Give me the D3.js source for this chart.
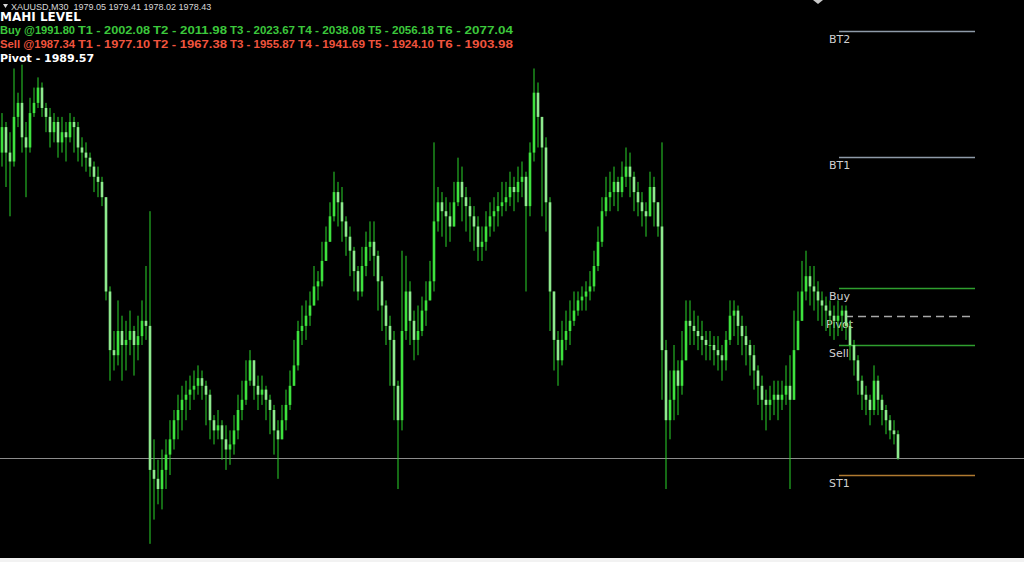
<!DOCTYPE html>
<html><head><meta charset="utf-8">
<script src="https://cdn.jsdelivr.net/npm/d3@7"></script>
<style>html,body{margin:0;padding:0;background:#000;overflow:hidden}svg{display:block}</style>
</head><body>
<svg id="chart" width="1024" height="562"></svg>
<script>
// ---- data (XAUUSD M30) ----
const firstOpen = 2002.4;
const closes = [2004.4,2002.4,2001.7,2005.2,2006.3,2003.6,2002.8,2005.5,2006.3,2007.5,2005.9,2005.2,2004.0,2004.8,2003.2,2004.0,2003.6,2004.8,2004.4,2002.8,2002.4,2002.0,2001.3,2000.5,2000.1,1998.9,1991.5,1986.9,1986.5,1988.4,1987.3,1987.7,1988.4,1987.3,1988.0,1989.2,1988.8,1977.5,1976.8,1976.0,1977.5,1978.7,1979.9,1981.4,1982.2,1983.0,1983.4,1983.8,1984.1,1984.7,1984.1,1983.4,1981.4,1980.6,1981.0,1979.9,1979.1,1979.5,1980.6,1982.2,1983.0,1984.5,1986.1,1984.1,1983.4,1983.8,1983.0,1982.2,1980.6,1979.9,1981.4,1982.6,1984.1,1985.7,1988.4,1988.8,1989.6,1990.4,1991.9,1992.3,1993.9,1995.4,1997.4,1999.3,1998.5,1997.0,1995.8,1994.7,1993.1,1991.5,1993.5,1995.0,1995.4,1994.3,1992.3,1990.4,1988.8,1987.7,1984.1,1981.4,1988.4,1991.5,1989.2,1987.7,1988.4,1990.0,1990.8,1992.3,1997.0,1998.5,1997.8,1997.4,1996.6,1998.5,2000.1,1998.9,1998.2,1997.4,1996.6,1995.0,1995.4,1996.6,1997.4,1997.8,1998.2,1998.5,1998.9,1999.7,1999.3,2000.1,2000.5,1998.2,2002.4,2007.1,2005.2,2002.8,1998.5,1991.5,1987.7,1986.1,1987.7,1988.4,1989.2,1990.0,1990.8,1991.1,1991.5,1991.9,1993.5,1995.4,1997.8,1998.9,1999.3,2000.1,1999.3,2000.5,2001.3,2000.5,1999.3,1998.5,1997.8,1997.4,1999.7,1998.5,1996.6,1986.9,1981.4,1983.0,1985.3,1984.1,1986.1,1989.2,1988.8,1988.4,1988.0,1987.7,1987.3,1987.3,1986.9,1986.5,1986.1,1987.7,1989.6,1990.0,1988.8,1988.0,1987.3,1986.5,1985.3,1984.1,1983.0,1982.6,1983.0,1983.4,1983.0,1983.4,1984.1,1983.0,1986.9,1989.2,1991.5,1992.7,1991.9,1991.5,1990.8,1990.4,1990.0,1989.6,1989.2,1989.6,1990.0,1988.8,1987.3,1986.1,1984.5,1983.4,1983.0,1982.2,1984.5,1983.0,1982.2,1981.4,1980.6,1980.3,1978.43];
const highs = [2005.5,2004.8,2004.0,2009.0,2007.1,2009.3,2004.8,2006.7,2007.5,2008.3,2007.9,2006.3,2005.9,2005.5,2005.2,2005.2,2004.8,2005.5,2005.2,2004.8,2003.6,2003.2,2002.4,2001.7,2001.3,2000.5,1998.9,1991.9,1988.4,1990.8,1989.6,1989.2,1990.0,1988.8,1989.6,1990.8,1993.5,1997.8,1979.9,1978.3,1979.1,1979.9,1981.4,1982.2,1983.4,1984.1,1984.5,1984.9,1985.3,1985.7,1985.3,1984.5,1983.8,1981.8,1982.2,1981.4,1981.0,1980.6,1981.8,1983.4,1984.5,1986.1,1986.9,1986.1,1984.9,1984.9,1984.1,1983.4,1982.6,1981.4,1982.6,1983.8,1985.3,1987.7,1989.2,1990.4,1990.8,1991.5,1993.5,1993.1,1995.4,1996.6,1998.5,2000.9,2000.1,1999.7,1997.4,1996.6,1995.0,1993.5,1995.0,1996.2,1997.0,1997.0,1994.7,1992.7,1990.8,1989.6,1988.4,1984.5,1994.7,1994.3,1992.3,1990.0,1990.4,1991.1,1992.3,1993.9,2003.2,1999.7,1999.3,1998.9,1998.5,2000.1,2002.0,2001.3,1999.7,1998.9,1998.2,1997.4,1996.6,1997.8,1998.5,1998.9,1999.3,2000.1,2000.1,2000.9,2000.5,2001.3,2001.7,2000.9,2003.2,2009.0,2007.9,2004.0,2003.6,1998.9,1991.5,1988.4,1989.2,1990.0,1990.8,1991.5,1991.5,1991.9,1992.3,1993.1,1994.7,1996.6,1998.9,2000.5,2000.9,2001.3,2000.5,2001.7,2002.8,2002.4,2000.9,2000.1,1999.3,1998.5,2000.9,2000.5,1998.5,2003.2,1987.7,1985.3,1987.3,1986.1,1988.4,1990.8,1990.8,1990.0,1989.6,1989.2,1988.4,1988.4,1988.0,1988.0,1987.3,1988.4,1990.8,1990.8,1990.4,1989.6,1988.8,1987.7,1987.3,1985.7,1984.9,1983.8,1984.1,1984.5,1984.5,1984.5,1985.7,1986.5,1990.0,1991.5,1993.9,1994.7,1993.5,1993.5,1992.3,1991.5,1991.1,1990.8,1990.4,1990.8,1990.4,1990.4,1989.2,1987.7,1986.5,1984.9,1984.1,1983.4,1985.7,1984.9,1983.4,1982.6,1981.8,1981.4,1980.6];
const lows = [2001.3,1999.7,1997.4,2001.3,2004.4,2002.4,1998.9,2002.4,2005.2,2005.9,2005.2,2004.0,2002.8,2003.2,2002.0,2002.4,2001.7,2003.2,2002.4,2001.7,2001.3,2000.9,2000.5,1999.3,1998.9,1998.2,1990.8,1984.5,1985.3,1985.7,1984.5,1985.3,1986.5,1984.9,1986.1,1987.3,1987.7,1971.7,1973.6,1974.8,1974.4,1976.0,1977.1,1979.1,1979.9,1980.6,1981.4,1982.2,1983.0,1983.4,1983.0,1981.0,1979.9,1979.5,1979.9,1978.3,1977.5,1977.9,1978.7,1979.9,1981.4,1982.6,1984.1,1983.0,1982.2,1982.6,1981.4,1980.3,1978.7,1976.8,1979.9,1980.6,1982.2,1984.1,1985.3,1987.3,1987.7,1988.8,1990.8,1990.8,1991.9,1993.9,1995.4,1997.0,1996.6,1995.4,1994.3,1992.7,1991.5,1990.8,1991.1,1992.7,1993.9,1992.7,1990.0,1988.4,1987.3,1984.1,1981.4,1976.0,1980.6,1987.7,1987.3,1986.1,1986.5,1988.0,1988.8,1990.8,1991.5,1996.2,1995.8,1995.0,1995.4,1996.6,1998.2,1997.0,1996.2,1995.4,1994.7,1993.9,1993.9,1994.7,1995.8,1996.2,1996.6,1997.4,1997.8,1998.2,1997.8,1998.5,1998.9,1991.5,1997.4,2001.7,2002.8,1997.4,1996.2,1988.4,1985.3,1984.1,1985.7,1986.9,1987.3,1988.8,1989.6,1990.0,1990.0,1990.8,1991.5,1993.1,1995.0,1997.4,1997.8,1998.2,1997.8,1998.9,1999.7,1998.9,1997.8,1997.4,1996.6,1995.8,1997.8,1996.6,1995.8,1983.0,1976.0,1979.9,1981.4,1981.8,1983.4,1986.5,1987.3,1987.3,1986.9,1986.5,1986.1,1986.1,1985.7,1985.3,1984.5,1985.3,1987.3,1988.0,1987.3,1986.5,1985.7,1984.9,1983.8,1982.6,1981.4,1980.6,1981.4,1981.8,1981.4,1982.2,1982.6,1976.0,1983.4,1986.9,1989.2,1990.8,1990.4,1990.0,1989.2,1988.8,1988.4,1988.0,1987.7,1988.0,1988.4,1987.7,1986.1,1984.9,1983.4,1982.2,1981.8,1981.0,1981.8,1981.8,1981.0,1980.3,1979.9,1979.5,1978.3];

const symbol = "XAUUSD,M30";
const quote = ["1979.05","1979.41","1978.02","1978.43"];
const bid = 1978.43;
const buyEntry = 1991.80, sellEntry = 1987.34, pivot = 1989.57;
const buyTargets = [2002.08, 2011.98, 2023.67, 2038.08, 2056.18, 2077.04];
const sellTargets = [1977.10, 1967.38, 1955.87, 1941.69, 1924.10, 1903.98];
const levelNames = ["BT2","BT1","Buy","Pivot","Sell","ST1"];
const levelValues = [2011.98, 2002.08, 1991.80, 1989.57, 1987.34, 1977.10];

// ---- build ----
const W = 1024, H = 562, plotH = 558;
const svg = d3.select("#chart");
svg.append("rect").attr("width", W).attr("height", plotH).attr("fill", "#000");
svg.append("rect").attr("y", plotH).attr("width", W).attr("height", H - plotH).attr("fill", "#f2f2f2");

const candles = closes.map((c, i) => ({
  i, o: i === 0 ? firstOpen : closes[i - 1], c, h: highs[i], l: lows[i]
}));

const x = d3.scaleBand().domain(candles.map(d => d.i)).range([0, candles.length * 4]).padding(0);
const y = d3.scaleLinear().domain([1977.10, 2011.98]).range([475, 30.5]);

// bid line (behind candles)
svg.append("line").attr("x1", 0).attr("x2", W)
  .attr("y1", Math.round(y(bid)) + 0.5).attr("y2", Math.round(y(bid)) + 0.5)
  .attr("stroke", "#8c8c8c").attr("stroke-width", 1);

// level lines
const levelColors = {"BT2": "#8e9aa8", "BT1": "#8e9aa8", "Buy": "#2f9f2f", "Pivot": "#a8a8a8", "Sell": "#2f9f2f", "ST1": "#b07a30"};
const lv = levelNames.map((n, k) => ({n, v: levelValues[k]}));
const gl = svg.append("g");
gl.selectAll("line").data(lv).join("line")
  .attr("x1", d => d.n === "Pivot" ? 845 : 839).attr("x2", d => d.n === "Pivot" ? 971 : 975)
  .attr("y1", d => Math.round(y(d.v)) + 0.5).attr("y2", d => Math.round(y(d.v)) + 0.5)
  .attr("stroke", d => levelColors[d.n]).attr("stroke-width", 1.3)
  .attr("stroke-dasharray", d => d.n === "Pivot" ? "8,5" : null);

// candles
const gc = svg.append("g");
const bw = 2.6;
gc.selectAll("line").data(candles).join("line")
  .attr("x1", d => x(d.i) + 2).attr("x2", d => x(d.i) + 2)
  .attr("y1", d => y(Math.max(d.h, d.o, d.c))).attr("y2", d => y(Math.min(d.l, d.o, d.c)))
  .attr("stroke", "#2bd42b").attr("stroke-width", 1);
gc.selectAll("rect").data(candles).join("rect")
  .attr("x", d => x(d.i) + 2 - bw / 2).attr("width", bw)
  .attr("y", d => y(Math.max(d.o, d.c)))
  .attr("height", d => Math.max(1, Math.abs(y(d.o) - y(d.c))))
  .attr("fill", d => d.c >= d.o ? "#3ee23e" : "#8eea8e");

// level labels
gl.selectAll("text").data(lv).join("text")
  .attr("x", d => d.n === "Pivot" ? 826 : 829)
  .attr("y", d => Math.round(y(d.v)) + 12)
  .attr("fill", "#d0d0d0").attr("font-family", "DejaVu Sans, sans-serif").attr("font-size", 11)
  .text(d => d.n);

// top-right shift marker
svg.append("path").attr("d", "M813,0 L823,0 L818,4 Z").attr("fill", "#c8c8c8");

// header
svg.append("path").attr("d", "M3,4 L8,4 L5.5,8 Z").attr("fill", "#d8d8d8");
svg.append("text").attr("x", 11).attr("y", 9.5).attr("fill", "#d8d8d8")
  .attr("font-family", "Liberation Sans, Arial, sans-serif").attr("font-size", 9)
  .style("white-space", "pre").text(symbol + "  " + quote.join(" "));

const bold = g => g.attr("font-family", "DejaVu Sans, Verdana, sans-serif").attr("font-weight", "bold").attr("font-size", 11);
svg.append("text").attr("x", 0).attr("y", 21).attr("fill", "#fff")
  .attr("font-family", "DejaVu Sans, Verdana, sans-serif").attr("font-weight", "bold").attr("font-size", 12)
  .text("MAHI LEVEL");

// target labels sit in fixed slots; a narrower face keeps each inside its slot
const tX = [78, 153, 230, 298, 368, 437, 516];
const narrow = g => g.attr("font-family", "Liberation Sans, Arial, sans-serif").attr("font-weight", "bold").attr("font-size", 11);
function row(yb, col, head, targets) {
  svg.append("text").attr("x", 0).attr("y", yb).attr("fill", col).call(narrow)
    .attr("textLength", tX[0] - 3).attr("lengthAdjust", "spacingAndGlyphs").text(head);
  targets.forEach((v, k) => svg.append("text").attr("x", tX[k]).attr("y", yb).attr("fill", col).call(narrow)
    .attr("textLength", tX[k + 1] - tX[k] - 3).attr("lengthAdjust", "spacingAndGlyphs")
    .text("T" + (k + 1) + " - " + v.toFixed(2)));
}
row(34, "#3cc83c", "Buy @" + buyEntry.toFixed(2), buyTargets);
row(48, "#f0543e", "Sell @" + sellEntry.toFixed(2), sellTargets);
svg.append("text").attr("x", 0).attr("y", 62).attr("fill", "#fff").call(bold).text("Pivot - " + pivot.toFixed(2));
</script>
</body></html>
